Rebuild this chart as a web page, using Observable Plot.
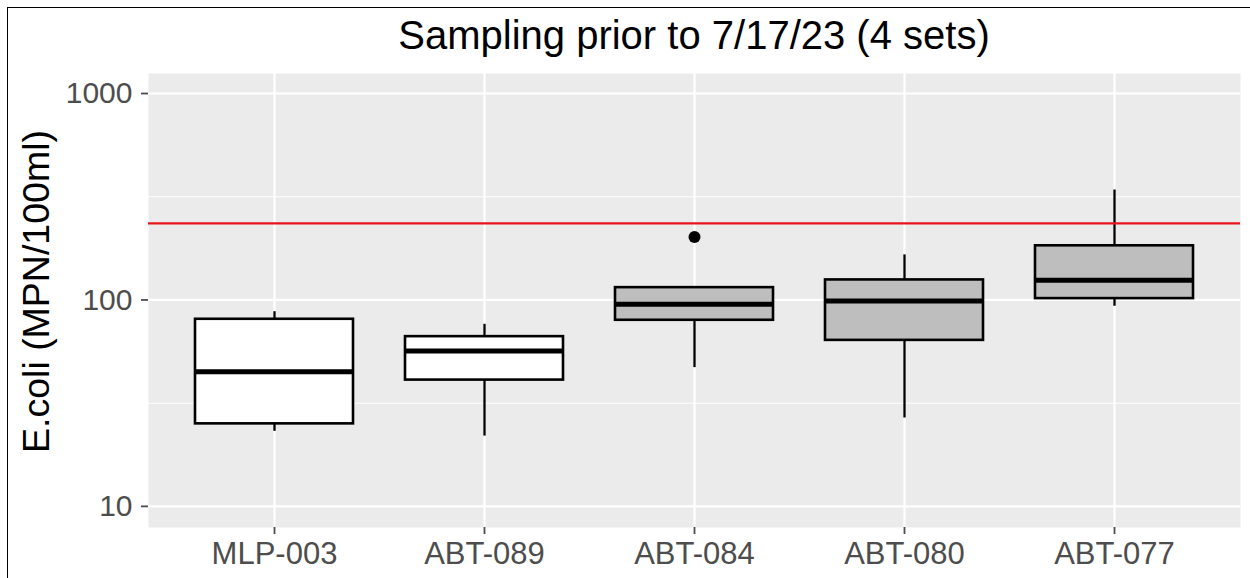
<!DOCTYPE html>
<html><head><meta charset="utf-8">
<script src="https://cdn.jsdelivr.net/npm/d3@7"></script>
<script src="https://cdn.jsdelivr.net/npm/@observablehq/plot@0.6"></script>
<style>
body{margin:0;background:#fff;}
#wrap{position:relative;width:1250px;height:578px;overflow:hidden;font-family:"Liberation Sans",Arial,sans-serif;}
#border{position:absolute;left:7px;top:7px;right:-10px;bottom:-10px;border-top:1.5px solid #000;border-left:1.5px solid #000;}
#title{position:absolute;left:148px;top:0;width:1092px;text-align:center;font-size:40px;line-height:40px;padding-top:15px;color:#000;white-space:nowrap;}
#chart{position:absolute;left:0;top:60px;}
</style></head>
<body><div id="wrap"><div id="border"></div><div id="title">Sampling prior to 7/17/23 (4 sets)</div><div id="chart"></div></div>
<script>
const sites = ["MLP-003","ABT-089","ABT-084","ABT-080","ABT-077"];
const groups = ["low","low","high","high","high"];
const whiskerLow = [23.1,21.9,47.0,26.8,93.2];
const q1 = [25.1,40.9,79.7,63.7,101.5];
const median = [44.9,56.5,95.3,98.9,124.6];
const q3 = [80.6,66.4,114.7,125,182.9];
const whiskerHigh = [87.7,76.2,114.7,165.3,340.7];
const outlierSites = ["ABT-084"];
const outlierValues = [202];
const majorTicks = [10,100,1000];
const minorTicks = [31.6,316];
const threshold = [235];
const yTitle = "E.coli (MPN/100ml)";

const data = sites.map((s,i)=>({site:s, group:groups[i], lo:whiskerLow[i], q1:q1[i], med:median[i], q3:q3[i], hi:whiskerHigh[i]}));
const outliers = outlierSites.map((s,i)=>({site:s, value:outlierValues[i]}));

const plot = Plot.plot({
  width:1250, height:518,
  marginLeft:148, marginRight:10, marginTop:13, marginBottom:51,
  style:{fontFamily:"Liberation Sans, Arial, sans-serif", background:"transparent", overflow:"visible"},
  x:{type:"band", domain:sites, paddingInner:0.25, paddingOuter:0.225, label:null},
  y:{type:"log", domain:[7.9,1250], label:null},
  color:{type:"ordinal", domain:["low","high"], range:["#FFFFFF","#BEBEBE"]},
  marks:[
    Plot.frame({fill:"#EBEBEB", stroke:"none"}),
    Plot.ruleY(minorTicks, {stroke:"#fff", strokeWidth:1.1}),
    Plot.ruleY(majorTicks, {stroke:"#fff", strokeWidth:2.2}),
    Plot.ruleX(sites, {stroke:"#fff", strokeWidth:2.2}),
    Plot.ruleX(data, {x:"site", y1:"lo", y2:"hi", stroke:"#000", strokeWidth:2.3}),
    Plot.barY(data, {x:"site", y1:"q1", y2:"q3", fill:"group", stroke:"#000", strokeWidth:2.6}),
    Plot.tickY(data, {x:"site", y:"med", stroke:"#000", strokeWidth:5}),
    Plot.dot(outliers, {x:"site", y:"value", r:6, fill:"#000", stroke:"none"}),
    Plot.ruleY(threshold, {stroke:"#E8141B", strokeWidth:2.4}),
    Plot.axisX({tickSize:7, tickPadding:7, fontSize:31, color:"#4D4D4D", strokeWidth:1.8, label:null}),
    Plot.axisY({ticks:majorTicks, tickFormat:d=>String(d), tickSize:7, tickPadding:9, fontSize:30, color:"#4D4D4D", strokeWidth:1.8, label:null}),
    Plot.text([yTitle], {text:d=>d, frameAnchor:"left", rotate:-90, dx:-112, dy:-9, fontSize:37.5, fill:"#000", textAnchor:"middle", lineAnchor:"middle"})
  ]
});
document.getElementById("chart").appendChild(plot);
</script></body></html>
